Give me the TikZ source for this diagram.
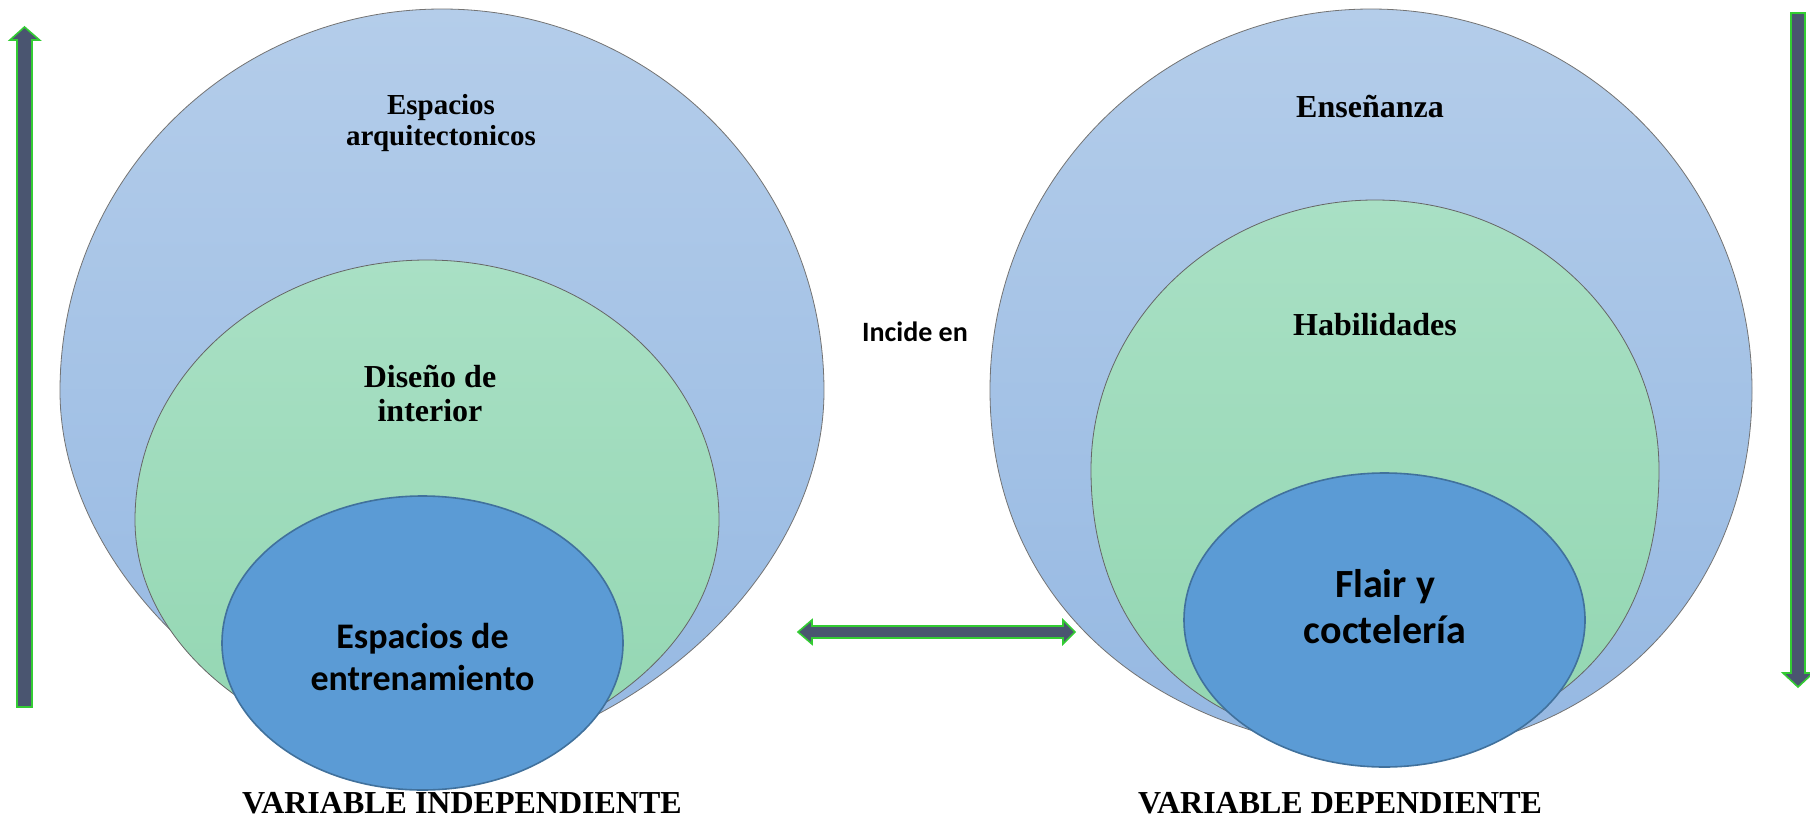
\documentclass[tikz,border=0pt]{standalone}
\usepackage{fontspec}
\setmainfont{Liberation Serif}
\newfontfamily\calfont{Carlito}
\usetikzlibrary{shapes.geometric}
\definecolor{outtop}{HTML}{B4CDEA}
\definecolor{outbot}{HTML}{95B8E2}
\definecolor{grtop}{HTML}{A9E0C5}
\definecolor{grbot}{HTML}{92D6B1}
\definecolor{dblue}{HTML}{5B9BD5}
\definecolor{dblueline}{HTML}{41719C}
\definecolor{arrfill}{HTML}{4A5570}
\definecolor{arrline}{HTML}{33CC33}
\tikzset{
  outershape/.style={draw=black!55, line width=0.8pt, top color=outtop, bottom color=outbot},
  greenshape/.style={draw=black!60, line width=0.8pt, top color=grtop, bottom color=grbot},
  innerell/.style={ellipse, draw=dblueline, line width=1.6pt, fill=dblue, minimum width=401pt, minimum height=294pt, inner sep=0pt},
  serlabel/.style={font=\bfseries\fontsize{30}{31}\selectfont, align=center, inner sep=0pt},
  sanlabel/.style={font=\calfont\bfseries\fontsize{36}{42}\selectfont, align=center, inner sep=0pt},
  bigarrow/.style={fill=arrfill, draw=arrline, line width=1.6pt, line join=miter},
  footlabel/.style={font=\bfseries\fontsize{32}{34}\selectfont, inner sep=0pt}
}
\begin{document}
\begin{tikzpicture}[x=1pt, y=-1pt]
\useasboundingbox (0,0) rectangle (1810,822);
% left diagram
\path[outershape] (60,391) .. controls (60,180) and (231,9) .. (442,9)
  .. controls (653,9) and (824,180) .. (824,391)
  .. controls (824,560) and (660,730) .. (440,768)
  .. controls (224,730) and (60,560) .. (60,391) -- cycle;
\path[greenshape] (135,520) .. controls (135,376) and (266,260) .. (427,260)
  .. controls (588,260) and (719,376) .. (719,520)
  .. controls (719,640) and (600,740) .. (425,770)
  .. controls (250,740) and (135,640) .. (135,520) -- cycle;
\node[innerell] (indell) at (422.5,643) {};
% right diagram
\path[outershape] (990,390) .. controls (990,180) and (1161,9) .. (1371,9)
  .. controls (1581,9) and (1752,180) .. (1752,390)
  .. controls (1752,580) and (1620,740) .. (1400,755)
  .. controls (1150,745) and (990,600) .. (990,390) -- cycle;
\path[greenshape] (1091,470) .. controls (1091,321) and (1218,200) .. (1375,200)
  .. controls (1532,200) and (1659,321) .. (1659,470)
  .. controls (1659,620) and (1580,730) .. (1390,752)
  .. controls (1180,740) and (1091,620) .. (1091,470) -- cycle;
\node[innerell] (depell) at (1384.5,620) {};
% texts
\node[serlabel, font=\bfseries\fontsize{29}{31}\selectfont] (t1) at (441,123) {Espacios\\arquitectonicos};
\node[serlabel, font=\bfseries\fontsize{32}{34}\selectfont] (t2) at (430,394) {Diseño de\\interior};
\node[sanlabel] (t3) at (indell.center) [yshift=-14pt] {Espacios de\\entrenamiento};
\node[serlabel, font=\bfseries\fontsize{32}{34}\selectfont] (t4) at (1370,107) {Enseñanza};
\node[serlabel, font=\bfseries\fontsize{32}{34}\selectfont] (t5) at (1375,325) {Habilidades};
\node[sanlabel, font=\calfont\bfseries\fontsize{40}{46}\selectfont] (t6) at (1385,607) {Flair y\\coctelería};
\node[font=\calfont\bfseries\fontsize{28}{30}\selectfont, inner sep=0pt] (inc) at (915,332) {Incide en};
\node[footlabel] (vi) at (462,803) {VARIABLE INDEPENDIENTE};
\node[footlabel] (vd) at (1340,803) {VARIABLE DEPENDIENTE};
% arrows
\coordinate (upbase) at (24.5,707);
\coordinate (downtop) at (1798,13);
\path[bigarrow] (upbase) ++(-7.5,0) -- ++(0,-667) -- ++(-7,0) -- (24.5,27) -- (39.5,40) -- ++(-7.5,0) -- ++(0,667) -- cycle;
\path[bigarrow] (downtop) ++(-7,0) -- ++(0,660) -- ++(-8,0) -- (1798,687) -- (1813,673) -- ++(-8,0) -- ++(0,-660) -- cycle;
\coordinate (dl) at (798,632);
\coordinate (dr) at (1075,632);
\path[bigarrow] (dl) -- (812,620) -- (812,626) -- (1063,626) -- (1063,620) -- (dr) -- (1063,644) -- (1063,638) -- (812,638) -- (812,644) -- cycle;
\end{tikzpicture}
\end{document}
